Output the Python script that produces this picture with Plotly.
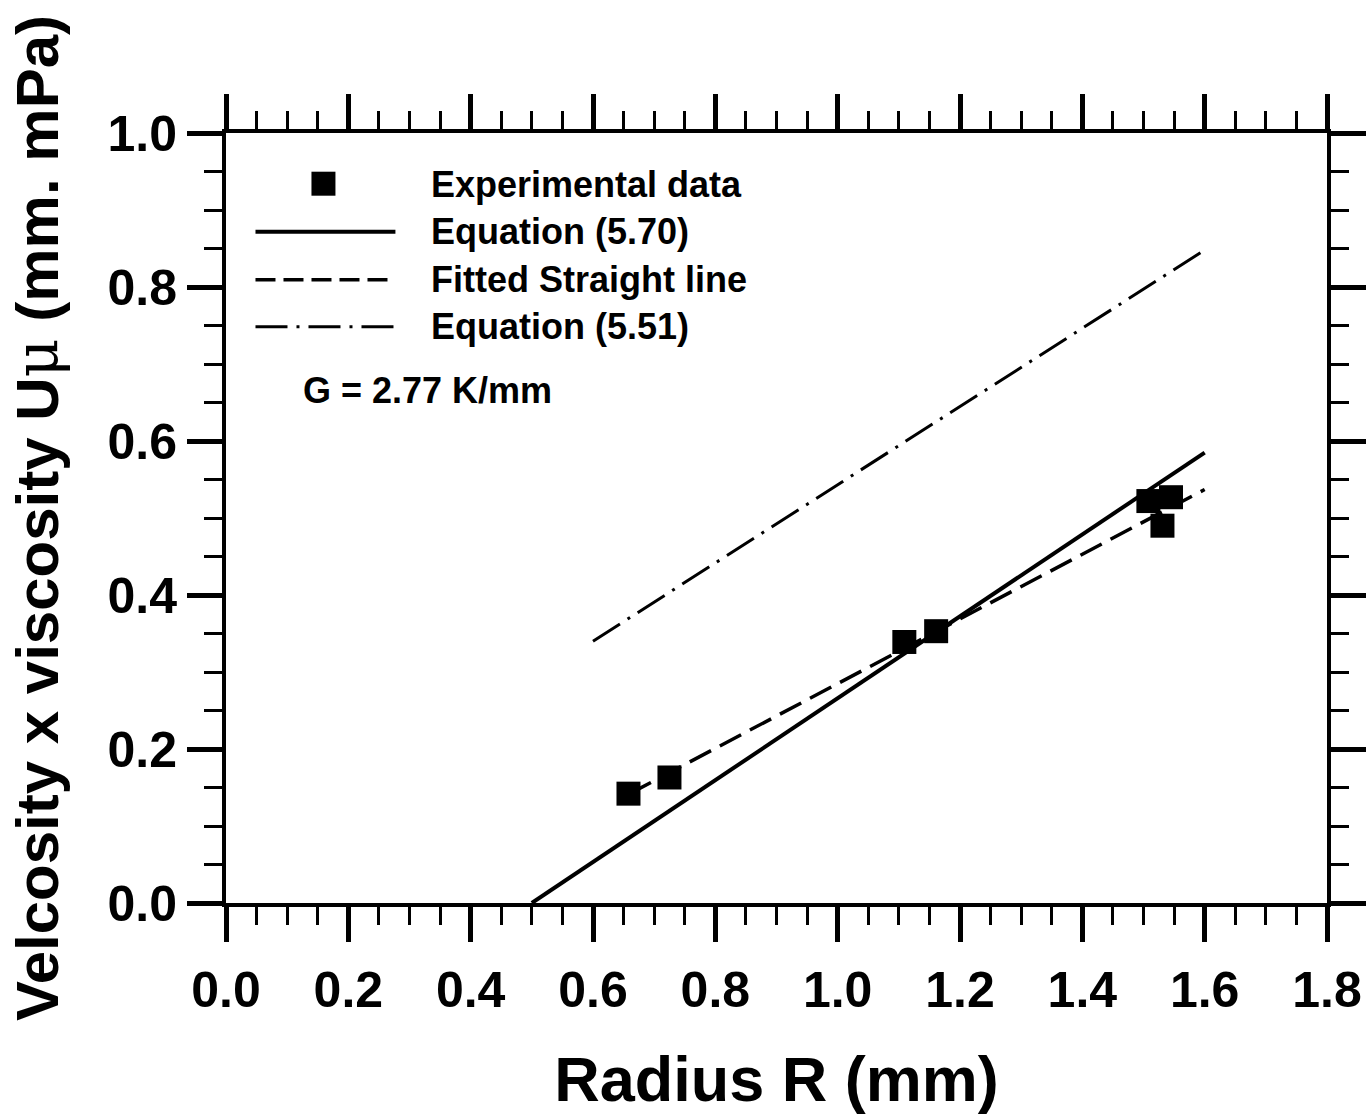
import plotly.graph_objects as go

# ---- data ----
exp_R = [0.658, 0.725, 1.109, 1.161, 1.508, 1.545, 1.531]
exp_U = [0.142, 0.163, 0.339, 0.353, 0.522, 0.527, 0.490]

eq570_R = [0.5, 1.6]
eq570_U = [0.0, 0.585]

fit_R = [0.66, 1.6]
fit_U = [0.142, 0.537]

eq551_R = [0.6, 1.6]
eq551_U = [0.34, 0.848]

x_ticks = [0.0, 0.2, 0.4, 0.6, 0.8, 1.0, 1.2, 1.4, 1.6, 1.8]
x_labels = ["0.0", "0.2", "0.4", "0.6", "0.8", "1.0", "1.2", "1.4", "1.6", "1.8"]
y_ticks = [0.0, 0.2, 0.4, 0.6, 0.8, 1.0]
y_labels = ["0.0", "0.2", "0.4", "0.6", "0.8", "1.0"]

legend_names = ["Experimental data", "Equation (5.70)", "Fitted Straight line", "Equation (5.51)"]
note_text = "G = 2.77 K/mm"

FONT = "Liberation Sans, Arial, sans-serif"
W, H = 1367, 1114
ML, MR, MT, MB = 225.5, 40, 133.3, 210.7
PW = W - ML - MR
PH = H - MT - MB


def px2paper(px, py):
    return (px - ML) / PW, (H - MB - py) / PH


fig = go.Figure()

fig.add_trace(go.Scatter(x=eq570_R, y=eq570_U, mode="lines", name=legend_names[1],
                         line=dict(color="black", width=4), showlegend=False))
fig.add_trace(go.Scatter(x=fit_R, y=fit_U, mode="lines", name=legend_names[2],
                         line=dict(color="black", width=3.5, dash="24px,10px"), showlegend=False))
fig.add_trace(go.Scatter(x=eq551_R, y=eq551_U, mode="lines", name=legend_names[3],
                         line=dict(color="black", width=3, dash="32px,9px,3px,9px"), showlegend=False))
fig.add_trace(go.Scatter(x=exp_R, y=exp_U, mode="markers", name=legend_names[0],
                         marker=dict(symbol="square", size=24, color="black",
                                     line=dict(width=0)), showlegend=False))

# ---- hand-drawn legend (long line samples as in the reference) ----
shapes = []
annotations = []
text_x = 429
rows_y = [185, 232, 280, 327]
cx, cy = 323, 184
x0, y0 = px2paper(cx - 12, cy + 12)
x1, y1 = px2paper(cx + 12, cy - 12)
shapes.append(dict(type="rect", xref="paper", yref="paper", x0=x0, y0=y0, x1=x1, y1=y1,
                   fillcolor="black", line=dict(width=0)))
line_styles = [dict(width=4, dash="solid"), dict(width=3.5, dash="20px,8px"),
               dict(width=3, dash="32px,9px,3px,9px")]
for ry, st in zip(rows_y[1:], line_styles):
    a0, b0 = px2paper(255, ry)
    a1, b1 = px2paper(395, ry)
    shapes.append(dict(type="line", xref="paper", yref="paper", x0=a0, y0=b0, x1=a1, y1=b1,
                       line=dict(color="black", width=st["width"], dash=st["dash"])))
for ry, name in zip(rows_y, legend_names):
    ax, ay = px2paper(text_x, ry)
    annotations.append(dict(xref="paper", yref="paper", x=ax, y=ay, text=name, showarrow=False,
                            xanchor="left", yanchor="middle",
                            font=dict(family=FONT, size=36, color="black", weight="bold")))
gx, gy = px2paper(301, 391)
annotations.append(dict(xref="paper", yref="paper", x=gx, y=gy, text=note_text, showarrow=False,
                        xanchor="left", yanchor="middle",
                        font=dict(family=FONT, size=36, color="black", weight="bold")))

axis_common = dict(
    showgrid=False, zeroline=False, showline=True, linecolor="black", linewidth=4,
    mirror="ticks", ticks="outside", ticklen=35, tickwidth=5, tickcolor="black",
    tickfont=dict(family=FONT, size=50, color="black", weight="bold"),
)

fig.update_xaxes(
    range=[0, 1.8], tickvals=x_ticks, ticktext=x_labels,
    minor=dict(ticks="outside", ticklen=18, tickwidth=3, tickcolor="black", dtick=0.05, tick0=0),
    title=dict(text="Radius R (mm)", font=dict(family=FONT, size=63, color="black", weight="bold"),
               standoff=60),
    ticklabelstandoff=5,
    **axis_common,
)
fig.update_yaxes(
    range=[0, 1.0], tickvals=y_ticks, ticktext=y_labels,
    minor=dict(ticks="outside", ticklen=18, tickwidth=3, tickcolor="black", dtick=0.05, tick0=0),
    title=dict(text='Velcosity x viscosity U<span style="font-family:DejaVu Serif;font-weight:normal">μ</span> (mm. mPa)',
               font=dict(family=FONT, size=60, color="black", weight="bold"), standoff=30),
    ticklabelstandoff=0,
    **axis_common,
)

fig.update_layout(
    width=W, height=H,
    margin=dict(l=ML, r=MR, t=MT, b=MB, autoexpand=False),
    paper_bgcolor="white", plot_bgcolor="white",
    shapes=shapes, annotations=annotations,
    showlegend=False,
)

fig.write_html("out.html", config={"displayModeBar": False},
               post_script="document.body.style.margin='0';document.body.style.overflow='hidden';")
